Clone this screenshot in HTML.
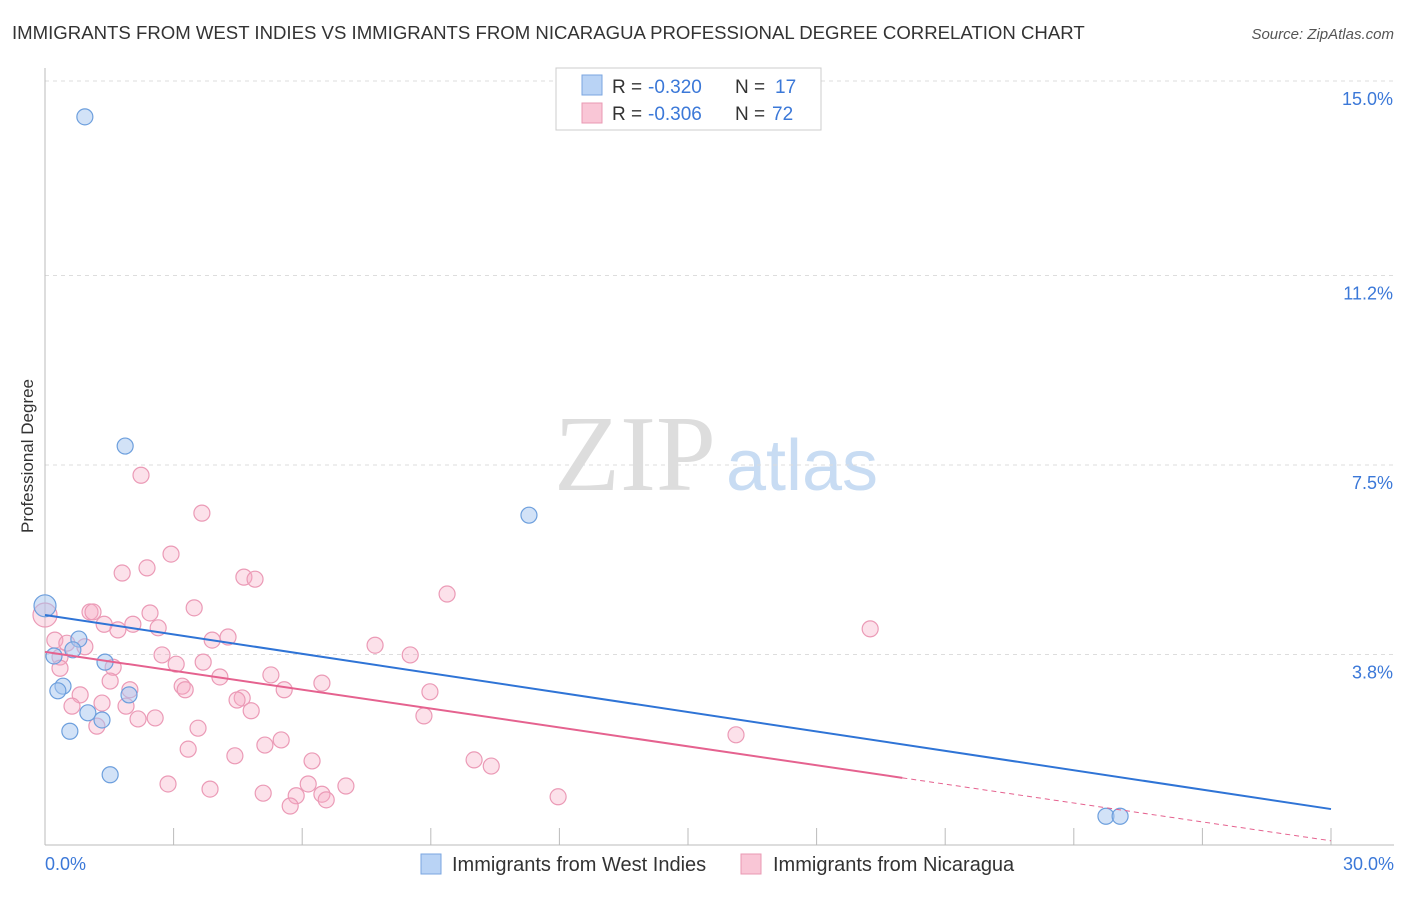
<!DOCTYPE html>
<html><head><meta charset="utf-8"><style>
body{margin:0;background:#fff;font-family:"Liberation Sans",sans-serif}
</style></head><body>
<svg id="chart" width="1406" height="892" xmlns="http://www.w3.org/2000/svg" font-family="Liberation Sans, sans-serif">
<text x="12" y="39" font-size="18.6" fill="#333">IMMIGRANTS FROM WEST INDIES VS IMMIGRANTS FROM NICARAGUA PROFESSIONAL DEGREE CORRELATION CHART</text>
<text x="1394" y="39" font-size="15" fill="#555" text-anchor="end" font-style="italic">Source: ZipAtlas.com</text>
<text transform="translate(33,456) rotate(-90)" font-size="17" fill="#333" text-anchor="middle">Professional Degree</text>
<g><text x="635" y="490" font-size="108" fill="#ddd" font-family="Liberation Serif, serif" text-anchor="middle">ZIP</text><text x="802" y="490" font-size="72" fill="#c8dcf3" text-anchor="middle">atlas</text></g>
<g id="grid"></g><g id="axes"></g><g id="marks"></g>
<g>
<rect x="556" y="68" width="265" height="62" fill="#fff" stroke="#ccc"/>
<rect x="582" y="75" width="20" height="20" fill="#b9d3f5" stroke="#7aa6e0"/>
<text x="612" y="93" font-size="19" fill="#333">R =</text><text x="648" y="93" font-size="19" fill="#3b78d8">-0.320</text>
<text x="735" y="93" font-size="19" fill="#333">N =</text><text x="775" y="93" font-size="19" fill="#3b78d8">17</text>
<rect x="582" y="103" width="20" height="20" fill="#f9c6d6" stroke="#e998b3"/>
<text x="612" y="120" font-size="19" fill="#333">R =</text><text x="648" y="120" font-size="19" fill="#3b78d8">-0.306</text>
<text x="735" y="120" font-size="19" fill="#333">N =</text><text x="772" y="120" font-size="19" fill="#3b78d8">72</text>
</g>
<g>
<rect x="421" y="854" width="20" height="20" fill="#b9d3f5" stroke="#7aa6e0"/>
<text x="452" y="871" font-size="20" fill="#333">Immigrants from West Indies</text>
<rect x="741" y="854" width="20" height="20" fill="#f9c6d6" stroke="#e998b3"/>
<text x="773" y="871" font-size="20" fill="#333">Immigrants from Nicaragua</text>
</g>
</svg>
<script>
const blueX=[0.93,1.87,11.29,0,0.79,0.21,0.65,1.40,0.42,0.30,1.96,1.00,1.33,0.58,1.52,24.75,25.08];
const blueY=[14.30,7.87,6.52,4.75,4.10,3.77,3.89,3.65,3.18,3.09,3.01,2.66,2.52,2.30,1.45,0.64,0.64];
const pinkX=[2.24,3.66,2.94,2.38,1.80,4.64,4.90,9.38,3.48,1.05,1.12,2.45,0,2.05,2.64,1.70,1.38,19.25,4.27,3.90,0.23,0.51,0.93,7.70,2.73,0.35,8.52,3.69,3.06,1.59,0.35,5.27,4.08,1.52,6.46,3.20,3.27,5.58,1.98,0.82,8.98,4.60,4.48,1.33,0.63,1.89,4.81,8.84,2.57,2.17,1.21,3.57,16.12,5.51,5.13,3.34,4.43,6.23,10.01,10.41,2.87,7.02,6.14,3.85,5.09,5.86,6.46,11.97,6.56,5.72];
const pinkY=[7.30,6.56,5.76,5.49,5.39,5.31,5.27,4.98,4.71,4.63,4.63,4.61,4.57,4.39,4.32,4.28,4.39,4.30,4.14,4.08,4.08,4.02,3.95,3.98,3.79,3.75,3.79,3.65,3.61,3.55,3.53,3.40,3.36,3.28,3.24,3.18,3.11,3.11,3.11,3.01,3.07,2.95,2.91,2.85,2.79,2.79,2.70,2.60,2.56,2.54,2.40,2.36,2.23,2.13,2.03,1.95,1.82,1.72,1.74,1.62,1.27,1.23,1.27,1.17,1.09,1.04,1.07,1.02,0.96,0.84];
const yTicks=[15.0,11.2,7.5,3.8];
const xTickLabels=["0.0%","30.0%"];
const blueTrend=[4.57,0.78];
const pinkTrend=[3.85,0.16];
const pinkSolidEnd=20.0;
const NS="http://www.w3.org/2000/svg";
const sx=v=>45+v/30*1286, sy=v=>849-v/3.75*192;
function mk(tag,attrs,parent){const e=document.createElementNS(NS,tag);for(const k in attrs)e.setAttribute(k,attrs[k]);parent.appendChild(e);return e;}
const grid=document.getElementById('grid'),axes=document.getElementById('axes'),marks=document.getElementById('marks');
yTicks.forEach(t=>{
 const l=mk('line',{x1:45,x2:1394,y1:sy(t),y2:sy(t),stroke:'#ddd','stroke-dasharray':'4,4'},grid);
 
 
 const tx=mk('text',{x:1393,y:sy(t)+24,'font-size':18,fill:'#3b78d8','text-anchor':'end'},axes);
 tx.textContent=t.toFixed(1)+'%';
 
 
});
const xa=mk('line',{x1:45,x2:1394,y1:845,y2:845,stroke:'#bbb'},axes);


const ya=mk('line',{x1:45,x2:45,y1:68,y2:845,stroke:'#bbb'},axes);


for(let i=1;i<=10;i++){const t=mk('line',{x1:sx(i*3),x2:sx(i*3),y1:828,y2:845,stroke:'#bbb'},axes);
 
 }
[[0,'start',45],[30,'end',1394]].forEach((d,i)=>{const t=mk('text',{x:d[2],y:870,'font-size':18,fill:'#3b78d8','text-anchor':d[1]},axes);t.textContent=xTickLabels[i];
 
 });
pinkX.forEach((x,i)=>{const c=mk('circle',{cx:sx(x),cy:sy(pinkY[i]),r:x===0?12:8,fill:'rgba(246,170,196,0.35)',stroke:'#eb9ab6','stroke-width':1.2},marks);
 
 });
blueX.forEach((x,i)=>{const c=mk('circle',{cx:sx(x),cy:sy(blueY[i]),r:x===0?11:8,fill:'rgba(165,198,240,0.5)',stroke:'#6d9fdd','stroke-width':1.2},marks);
 
 });
const pAt=x=>pinkTrend[0]+(pinkTrend[1]-pinkTrend[0])*x/30;
const bl=mk('line',{x1:sx(0),y1:sy(blueTrend[0]),x2:sx(30),y2:sy(blueTrend[1]),stroke:'#2f74d6','stroke-width':2},marks);


const pl=mk('line',{x1:sx(0),y1:sy(pinkTrend[0]),x2:sx(pinkSolidEnd),y2:sy(pAt(pinkSolidEnd)),stroke:'#e5628f','stroke-width':2},marks);


const pd=mk('line',{x1:sx(pinkSolidEnd),y1:sy(pAt(pinkSolidEnd)),x2:sx(30),y2:sy(pinkTrend[1]),stroke:'#e5628f','stroke-width':1,'stroke-dasharray':'5,4'},marks);


</script>
</body></html>
